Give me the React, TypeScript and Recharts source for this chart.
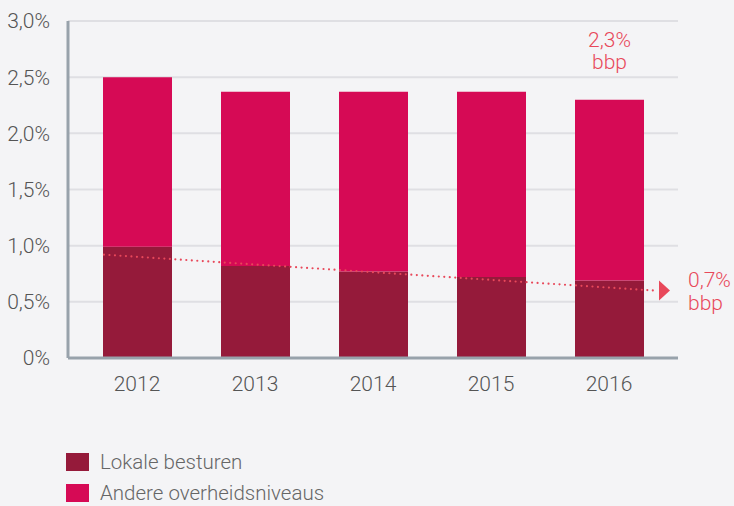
import React from "react";
import {
  ComposedChart,
  Bar,
  Line,
  XAxis,
  YAxis,
  CartesianGrid,
  Legend,
  LabelList,
} from "recharts";

const years = ["2012", "2013", "2014", "2015", "2016"];
const lokale = [0.99, 0.82, 0.77, 0.72, 0.69];
const andere = [1.51, 1.55, 1.6, 1.65, 1.61];
const yTicks = [0, 0.5, 1, 1.5, 2, 2.5, 3];

// trend line (dotted, with arrow) in category-index units
const trendX = [-0.28, 4.39];
const trendY = [0.92, 0.6];

const totalLabel = ["2,3%", "bbp"];
const trendLabel = ["0,7%", "bbp"];

const data = years.map((y, i) => ({ year: y, lokale: lokale[i], andere: andere[i] }));
const trendData = trendX.map((x, i) => ({ x, v: trendY[i] }));

const FONT = "Roboto, 'Open Sans', sans-serif";
const RED = "#e8485a";

const fmt = (v: number) => (v === 0 ? "0%" : v.toFixed(1).replace(".", ",") + "%");

const TotalLabel = (props: any) => {
  const { x, y, width, index } = props;
  if (index !== years.length - 1) return null;
  const cx = x + width / 2;
  return (
    <g>
      <text x={cx} y={y - 53} textAnchor="middle" fill={RED} fontSize={21} fontFamily={FONT} fontWeight={300}>
        {totalLabel[0]}
      </text>
      <text x={cx} y={y - 31} textAnchor="middle" fill={RED} fontSize={21} fontFamily={FONT} fontWeight={300}>
        {totalLabel[1]}
      </text>
    </g>
  );
};

const ArrowDot = (props: any) => {
  const { cx, cy, index } = props;
  if (index !== trendData.length - 1) return <g key={"d" + index} />;
  return (
    <g key={"d" + index}>
      <polygon points={`${cx + 4},${cy - 10} ${cx + 15},${cy} ${cx + 4},${cy + 10}`} fill={RED} />
      <text x={cx + 33} y={cy - 4} fill={RED} fontSize={21} fontFamily={FONT} fontWeight={300}>
        {trendLabel[0]}
      </text>
      <text x={cx + 33} y={cy + 19} fill={RED} fontSize={21} fontFamily={FONT} fontWeight={300}>
        {trendLabel[1]}
      </text>
    </g>
  );
};

const legendItems = [
  { name: "Lokale besturen", color: "#951a3a" },
  { name: "Andere overheidsniveaus", color: "#d60a55" },
];

const LegendContent = () => (
  <div style={{ paddingLeft: 66, paddingTop: 48 }}>
    {legendItems.map((it) => (
      <div key={it.name} style={{ display: "flex", alignItems: "center", height: 31 }}>
        <span style={{ width: 23, height: 18, background: it.color, display: "inline-block" }} />
        <span style={{ marginLeft: 11, fontSize: 20.5, color: "#666", fontFamily: FONT, fontWeight: 300 }}>
          {it.name}
        </span>
      </div>
    ))}
  </div>
);

export default function App() {
  return (
    <div style={{ position: "absolute", left: 0, top: 0, width: 734, height: 506, background: "#f4f4f6" }}>
      <ComposedChart width={734} height={506} data={data} margin={{ top: 21, right: 56, left: 0, bottom: 0 }}>
        <CartesianGrid vertical={false} stroke="#dfdfe3" strokeWidth={2} />
        <XAxis
          dataKey="year"
          padding={{ left: 10, right: 10 }}
          axisLine={{ stroke: "#98a2ab", strokeWidth: 3 }}
          tickLine={false}
          tick={{ fill: "#555", fontSize: 21, fontFamily: FONT, fontWeight: 300 }}
          tickMargin={12}
          height={40}
        />
        <XAxis xAxisId="trend" type="number" dataKey="x" domain={[-0.585, 4.585]} hide />
        <YAxis
          domain={[0, 3]}
          ticks={yTicks}
          tickFormatter={fmt}
          width={68}
          axisLine={{ stroke: "#98a2ab", strokeWidth: 3 }}
          tickLine={false}
          tickMargin={12}
          tick={{ fill: "#555", fontSize: 21, fontFamily: FONT, fontWeight: 300 }}
        />
        <Legend verticalAlign="bottom" align="left" height={108} content={<LegendContent />} />
        <Bar dataKey="lokale" stackId="a" fill="#951a3a" barSize={69} isAnimationActive={false} />
        <Bar dataKey="andere" stackId="a" fill="#d60a55" barSize={69} isAnimationActive={false}>
          <LabelList dataKey="andere" content={<TotalLabel />} />
        </Bar>
        <Line
          xAxisId="trend"
          data={trendData}
          dataKey="v"
          type="linear"
          stroke={RED}
          strokeWidth={2.2}
          strokeDasharray="0 5.5"
          strokeLinecap="round"
          dot={<ArrowDot />}
          activeDot={false}
          isAnimationActive={false}
        />
      </ComposedChart>
    </div>
  );
}
